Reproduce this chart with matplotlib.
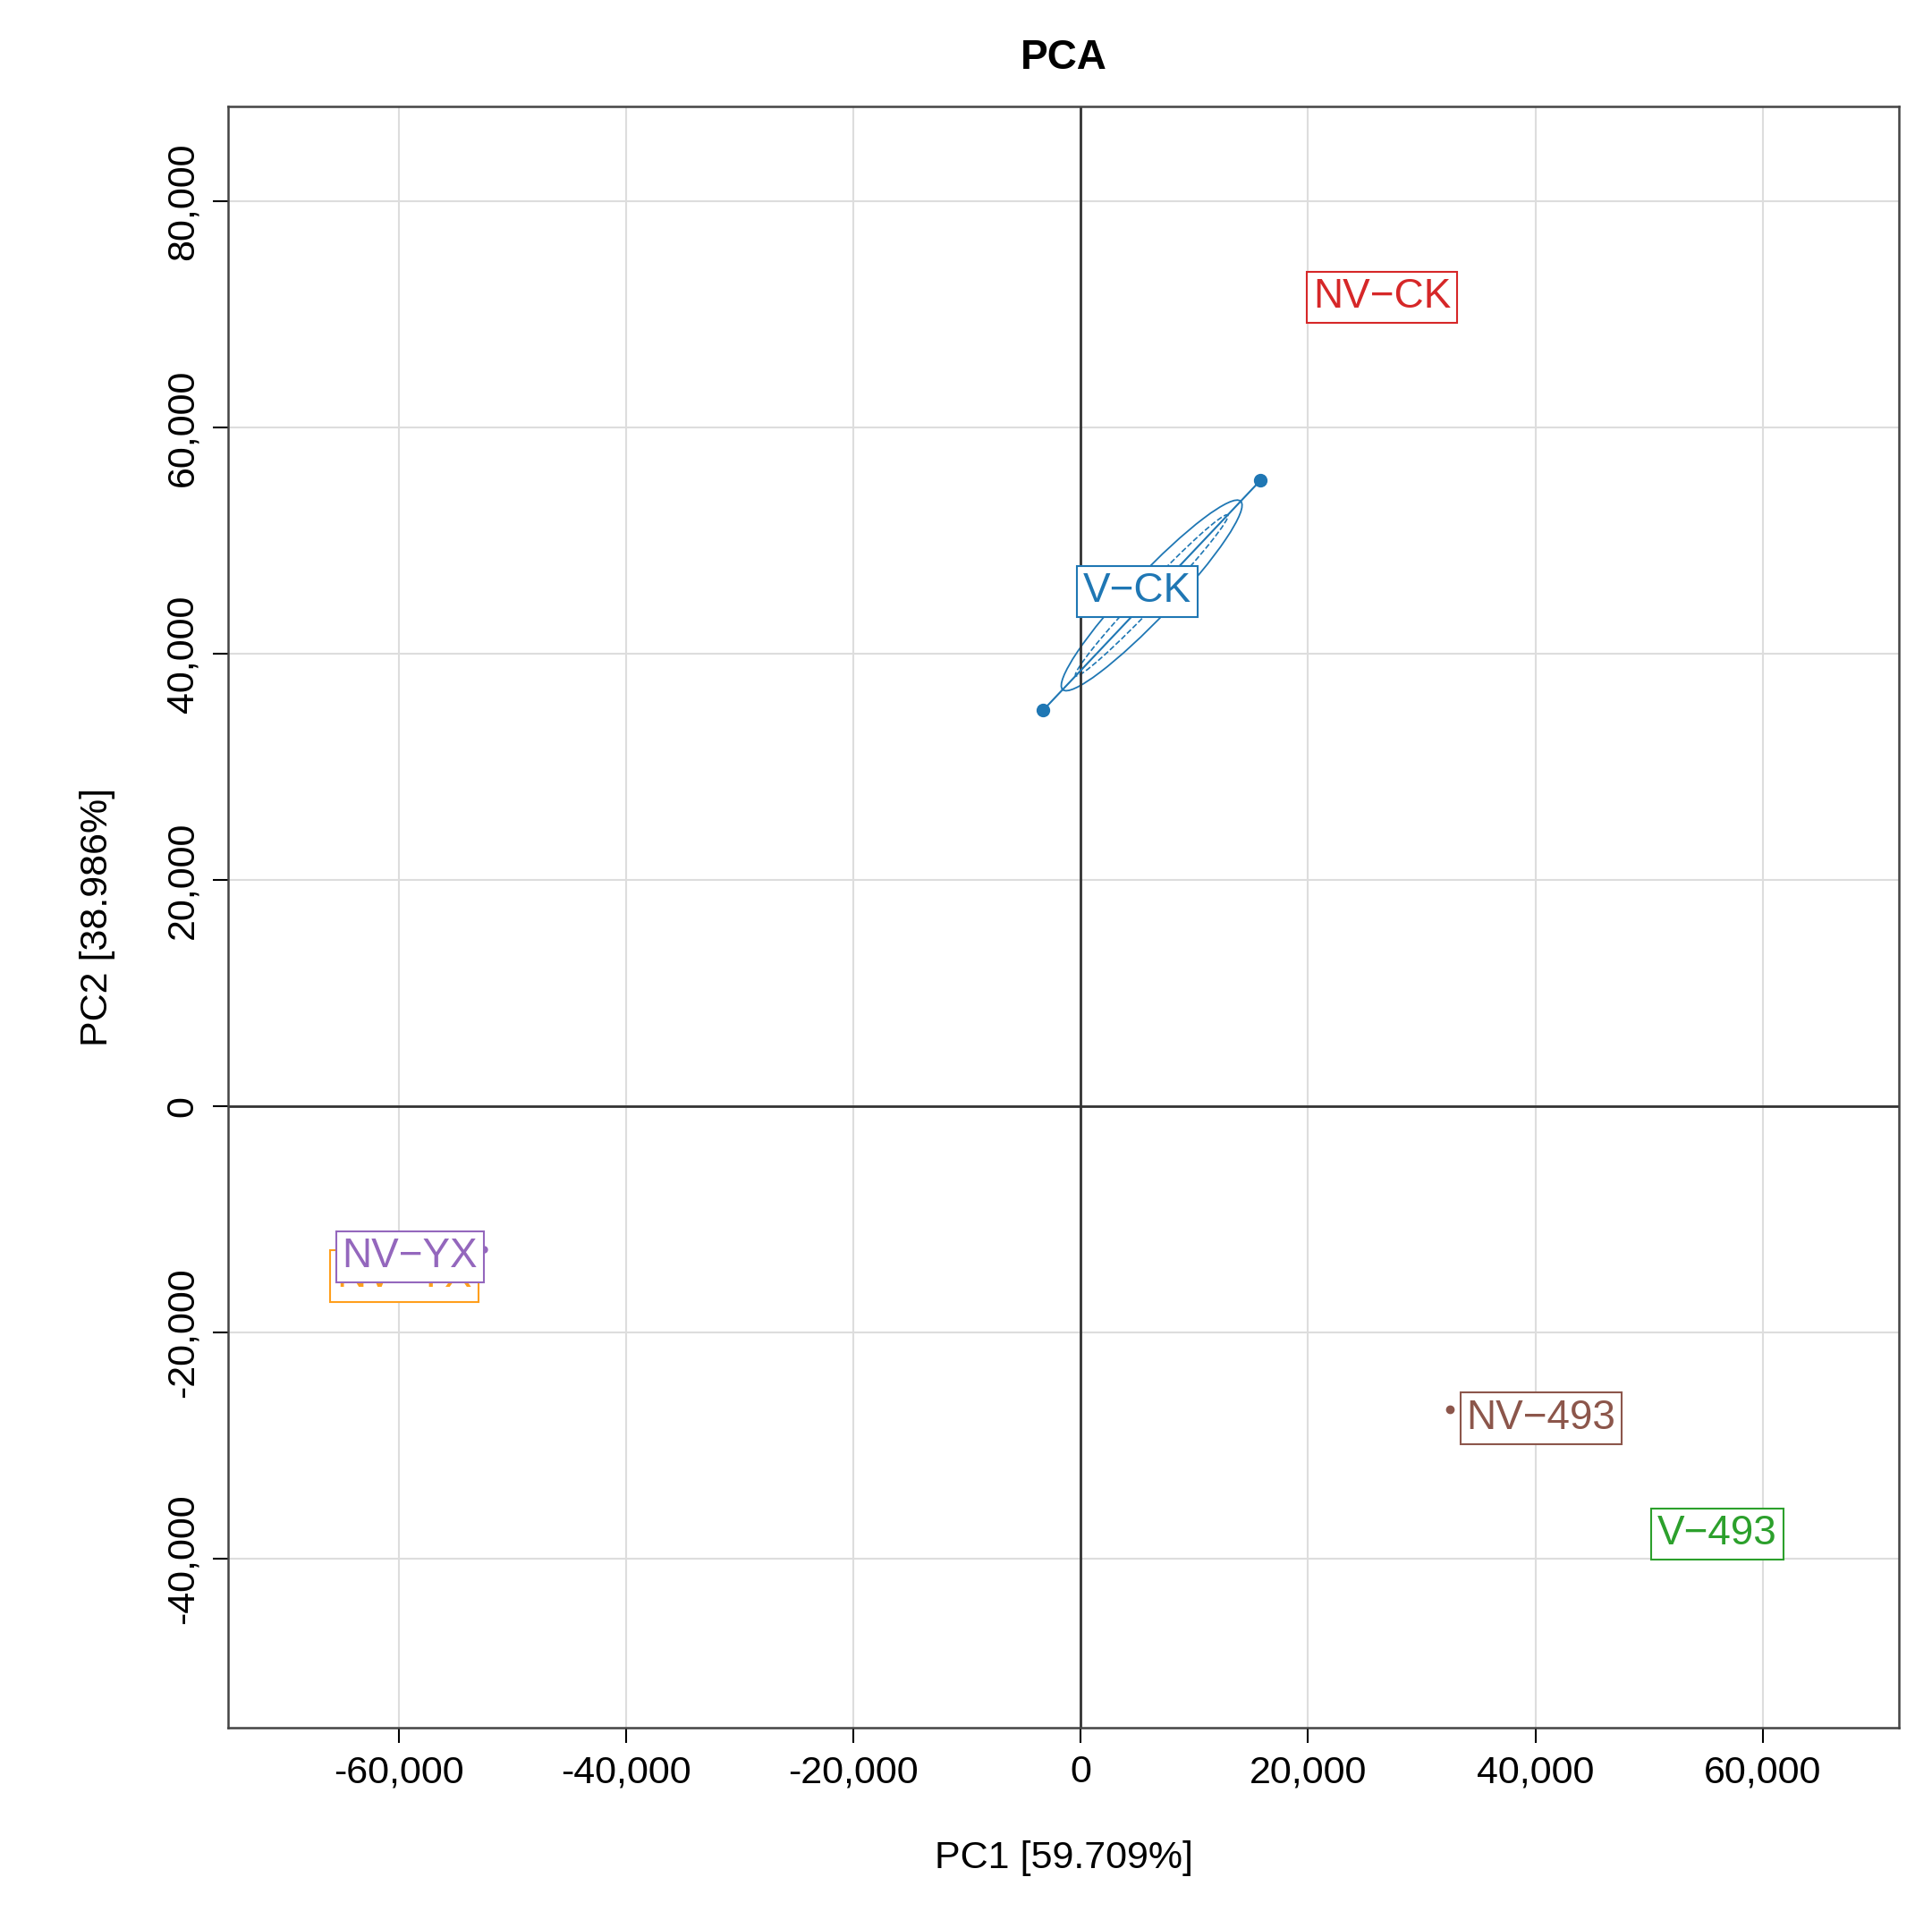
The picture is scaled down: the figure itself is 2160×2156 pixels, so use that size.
import matplotlib
matplotlib.use("Agg")
import matplotlib.pyplot as plt
import numpy as np
from matplotlib.patches import Ellipse

plt.rcParams['font.family'] = ['Liberation Sans', 'DejaVu Sans']

groups = ["NV-CK", "V-CK", "NV-YX", "NV-YX2", "NV-493", "V-493"]
labels = ["NV\u2212CK", "V\u2212CK", "NV\u2212YX", "NV\u2212YX", "NV\u2212493", "V\u2212493"]
colors = ["#d62728", "#1f77b4", "#9467bd", "#ff9f1c", "#8c564b", "#2ca02c"]
label_x = [26500, 5000, -59000, -59500, 40500, 56000]
label_y = [71500, 45500, -13300, -15000, -27600, -37800]
vck_x = [-3300, 15800]
vck_y = [35000, 55300]
nv493_pt = (32500, -26800)
nvyx_pt = (-52500, -12600)

fig = plt.figure(figsize=(21.6, 21.56), dpi=100)
ax = fig.add_axes([0.118, 0.104, 0.865, 0.841])
ax.set_xlim(-75000, 72000)
ax.set_ylim(-54900, 88400)
ax.set_xticks(np.arange(-60000, 60001, 20000))
ax.set_yticks(np.arange(-40000, 80001, 20000))
ax.xaxis.set_major_formatter(matplotlib.ticker.FuncFormatter(lambda v, p: f"{int(v):,}"))
ax.yaxis.set_major_formatter(matplotlib.ticker.FuncFormatter(lambda v, p: f"{int(v):,}"))
ax.tick_params(labelsize=31, length=12, width=1.5, pad=10)
for t in ax.get_yticklabels():
    t.set_rotation(90)
    t.set_va('center')
ax.grid(True, color="#dddddd", lw=1.5)
ax.set_axisbelow(True)
for s in ax.spines.values():
    s.set_linewidth(1.8); s.set_color("#444444")
ax.axhline(0, color="#333333", lw=2)
ax.axvline(0, color="#333333", lw=2)

cx, cy = np.mean(vck_x), np.mean(vck_y)
ang = np.degrees(np.arctan2(np.diff(vck_y)[0] * 1.0, np.diff(vck_x)[0]))
L = np.hypot(np.diff(vck_x)[0], np.diff(vck_y)[0])
ax.plot(vck_x, vck_y, color=colors[1], lw=1.5, marker='o', ms=10)
ax.add_patch(Ellipse((cx, cy), L * 0.82, 3800, angle=ang, fill=False, ec=colors[1], lw=1.3))
ax.add_patch(Ellipse((cx, cy), L * 0.7, 1600, angle=ang, fill=False, ec=colors[1], lw=1.2, ls='--'))
ax.plot(*nv493_pt, marker='o', ms=6, color=colors[4])
ax.plot(*nvyx_pt, marker='o', ms=5, color=colors[2])

order = [3, 2, 0, 1, 4, 5]
for z, i in enumerate(order):
    ax.text(label_x[i], label_y[i], labels[i], color=colors[i], fontsize=33,
            ha='center', va='center', zorder=5 + z,
            bbox=dict(boxstyle='square,pad=0.15', fc='white', ec=colors[i], lw=1.5))

ax.set_title("PCA", fontsize=33, fontweight='bold', pad=30)
ax.set_xlabel("PC1 [59.709%]", fontsize=31, labelpad=40)
ax.set_ylabel("PC2 [38.986%]", fontsize=31, labelpad=40)
fig.savefig("out.png", dpi=100)
